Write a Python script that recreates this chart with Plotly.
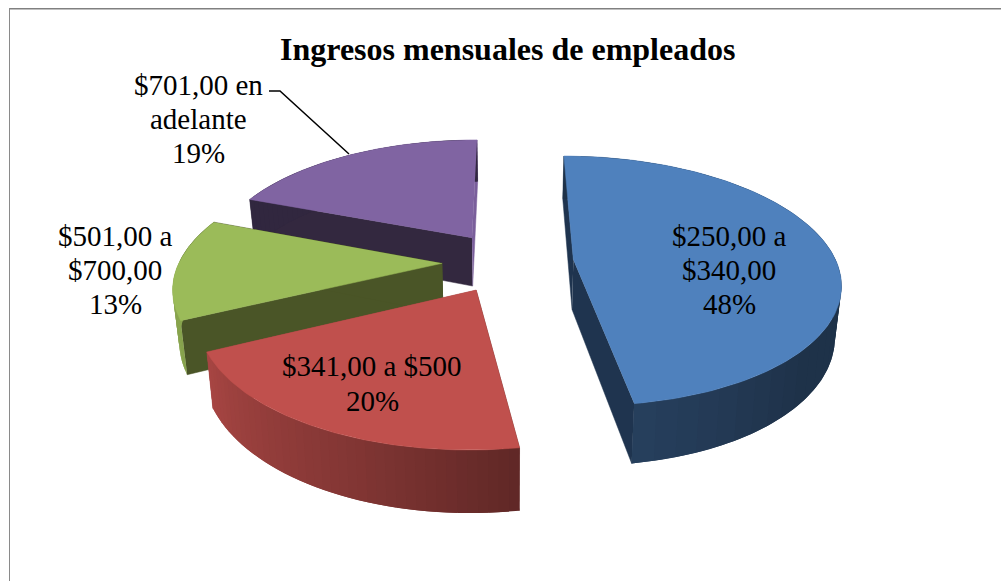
import numpy as np
import plotly.graph_objects as go

# data
categories = ["$250,00 a $340,00", "$341,00 a $500", "$501,00 a $700,00", "$701,00 en adelante"]
shares = [47.58, 20.28, 12.94, 19.2]
title = "Ingresos mensuales de empleados"

# style
top_colors = ["#4F81BD", "#C0504D", "#9BBB59", "#8064A2"]
cut_start_colors = ["#1F344F", "#5E2321", "#4A5527", "#33283F"]
cut_end_colors = ["#1F344F", "#A64A47", "#4A5527", "#7A5F9B"]
draw_order = [3, 2, 0, 1]
label_lines = [["$250,00 a", "$340,00", "48%"], ["$341,00 a $500", "20%"], ["$501,00 a", "$700,00", "13%"], ["$701,00 en", "adelante", "19%"]]
label_pos = [(729, 236, 34), (372, 366, 35), (115, 236, 34), (198, 85, 34)]

# projection of the exploded 3-D pie
START = 0.0
EXPLODE = 0.25
CX, CY, A, B, P = 508.0, 262.0, 263.0, 122.0, 0.17
H, SHRINK = 50.0, 0.98


def project(X, Y, low=False):
    X, Y = np.asarray(X, float), np.asarray(Y, float)
    w = 1 / (1 - P * Y)
    sx = CX + A * X * w
    sy = CY + B * Y * w
    if low:
        sx = CX + (sx - CX) * SHRINK
        sy = sy + H * w
    return sx, sy


def shade(theta):
    t = ((theta + 90) % 360) - 90
    return np.interp(t, [80, 130, 170, 200, 242, 290], [0.39, 0.39, 0.5, 0.68, 0.87, 0.9])


def scaled(hexcol, f):
    return "rgb(%d,%d,%d)" % tuple(int(int(hexcol[i:i + 2], 16) * f) for i in (1, 3, 5))


fig = go.Figure()


def poly(xs, ys, color, edge=0.5):
    fig.add_trace(go.Scatter(x=list(xs), y=list(ys), mode="lines", fill="toself", fillcolor=color,
                             line=dict(color=color, width=edge), hoverinfo="skip", showlegend=False))


edges = np.cumsum([0] + shares) / sum(shares) * 360 + START
for i in draw_order:
    t0, t1 = edges[i], edges[i + 1]
    mid = np.radians((t0 + t1) / 2)
    ox, oy = EXPLODE * np.sin(mid), -EXPLODE * np.cos(mid)
    th = np.radians(np.linspace(t0, t1, 121))
    X, Y = ox + np.sin(th), oy - np.cos(th)

    # cut faces
    for k, col in ((0, cut_start_colors[i]), (-1, cut_end_colors[i])):
        a_t, b_t = project([ox, X[k]], [oy, Y[k]])
        a_l, b_l = project([ox, X[k]], [oy, Y[k]], low=True)
        poly([a_t[0], a_t[1], a_l[1], a_l[0]], [b_t[0], b_t[1], b_l[1], b_l[0]], col)

    # outer wall, as shaded strips, each overlapping the next so no seams show
    sx, sy = project(X, Y)
    lx, ly = project(X, Y, low=True)
    step = 3
    for j in range(0, len(th) - 1, step):
        e = min(j + step + 3, len(th) - 1)
        xs = list(sx[j:e + 1]) + list(lx[j:e + 1][::-1])
        ys = list(sy[j:e + 1]) + list(ly[j:e + 1][::-1])
        poly(xs, ys, scaled(top_colors[i], shade(np.degrees(th[j]))), edge=0)

    # top face
    ax, ay = project([ox], [oy])
    poly([ax[0]] + list(sx), [ay[0]] + list(sy), top_colors[i])

# leader line for the last label
fig.add_trace(go.Scatter(x=[269, 280, 349], y=[91, 91, 154], mode="lines", line=dict(color="black", width=1.5),
                         hoverinfo="skip", showlegend=False))

anns = [dict(x=507, y=49, text="<b>%s</b>" % title, showarrow=False, xanchor="center", yanchor="middle",
             font=dict(family="Liberation Serif", size=32, color="black"))]
for lines, (lx0, ly0, dy) in zip(label_lines, label_pos):
    for n, line in enumerate(lines):
        anns.append(dict(x=lx0, y=ly0 + n * dy, text=line, showarrow=False, xanchor="center", yanchor="middle",
                         font=dict(family="Liberation Serif", size=29, color="black")))

fig.update_layout(
    width=1001, height=581, margin=dict(l=0, r=0, t=0, b=0),
    paper_bgcolor="white", plot_bgcolor="white", showlegend=False,
    xaxis=dict(range=[0, 1001], visible=False, fixedrange=True),
    yaxis=dict(range=[581, 0], visible=False, fixedrange=True),
    annotations=anns,
    shapes=[dict(type="line", x0=9, x1=1001, y0=8.7, y1=8.7, line=dict(color="#808080", width=1.5)),
            dict(type="line", x0=9.5, x1=9.5, y0=8, y1=581, line=dict(color="#8A8A8A", width=1))],
)
fig.write_html("out.html", config={"displayModeBar": False},
               post_script="document.body.style.margin='0';document.body.style.overflow='hidden';")
